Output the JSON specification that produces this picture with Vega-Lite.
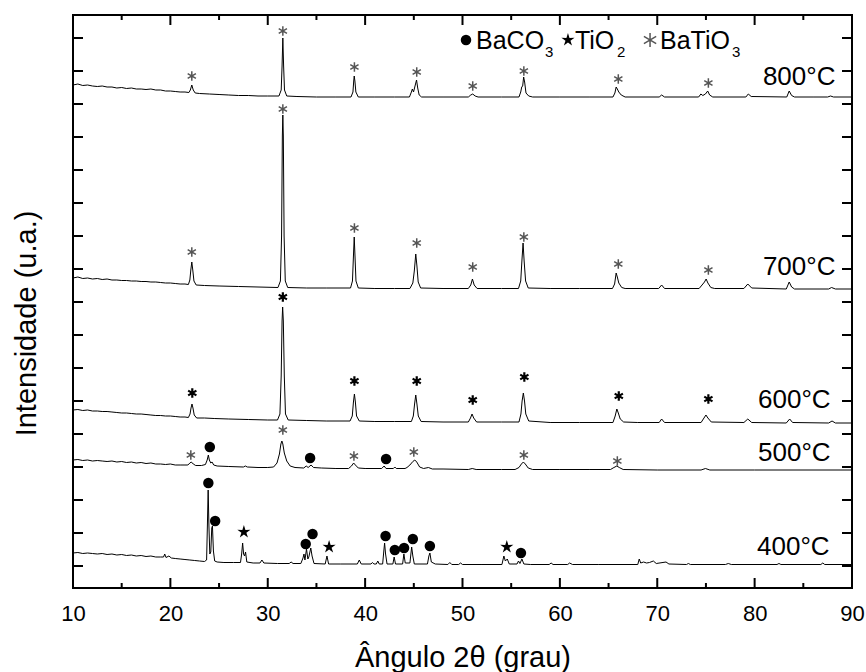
{
"$schema": "https://vega.github.io/schema/vega-lite/v6.json",
"width": 779, "height": 573,
"autosize": "none",
"padding": {"left": 73, "top": 15, "right": 14, "bottom": 84},
"background": "white",
"config": {
  "view": {"stroke": "black", "strokeWidth": 2},
  "font": "Liberation Sans",
  "axis": {"domain": false, "grid": false, "labelColor": "black", "titleColor": "black", "labelFont": "Liberation Sans", "titleFont": "Liberation Sans", "titleFontWeight": "normal"}
},
"datasets": {
  "curves": [
{"T":"800","x":10,"I":481},{"T":"800","x":10.5,"I":482},{"T":"800","x":11,"I":480.5},{"T":"800","x":11.5,"I":481},{"T":"800","x":12,"I":480},{"T":"800","x":12.5,"I":479.5},{"T":"800","x":13,"I":480},{"T":"800","x":13.5,"I":479},{"T":"800","x":14,"I":479},{"T":"800","x":14.5,"I":478},{"T":"800","x":15,"I":478.5},{"T":"800","x":15.5,"I":477.5},{"T":"800","x":16,"I":478},{"T":"800","x":16.5,"I":477},{"T":"800","x":17,"I":477},{"T":"800","x":17.5,"I":476.5},{"T":"800","x":18,"I":477},{"T":"800","x":18.5,"I":476},{"T":"800","x":19,"I":476},{"T":"800","x":19.5,"I":475},{"T":"800","x":20,"I":475},{"T":"800","x":20.5,"I":474.5},{"T":"800","x":21,"I":474},{"T":"800","x":21.5,"I":474},{"T":"800","x":21.9,"I":473.5},{"T":"800","x":22.05,"I":476},{"T":"800","x":22.2,"I":481},{"T":"800","x":22.35,"I":476},{"T":"800","x":22.55,"I":473},{"T":"800","x":23,"I":472.5},{"T":"800","x":24,"I":472},{"T":"800","x":25,"I":471.5},{"T":"800","x":26,"I":471},{"T":"800","x":27,"I":470.5},{"T":"800","x":28,"I":470.5},{"T":"800","x":29,"I":470},{"T":"800","x":30,"I":470},{"T":"800","x":31.15,"I":470},{"T":"800","x":31.38,"I":476},{"T":"800","x":31.47,"I":500},{"T":"800","x":31.55,"I":528},{"T":"800","x":31.63,"I":500},{"T":"800","x":31.72,"I":476},{"T":"800","x":31.95,"I":470},{"T":"800","x":33,"I":469.5},{"T":"800","x":35,"I":469},{"T":"800","x":37,"I":469},{"T":"800","x":38.55,"I":469},{"T":"800","x":38.75,"I":474},{"T":"800","x":38.83,"I":485},{"T":"800","x":38.88,"I":490},{"T":"800","x":38.95,"I":485},{"T":"800","x":39.05,"I":474},{"T":"800","x":39.3,"I":469},{"T":"800","x":41,"I":469},{"T":"800","x":43,"I":469},{"T":"800","x":44.55,"I":469},{"T":"800","x":44.75,"I":474},{"T":"800","x":44.85,"I":477},{"T":"800","x":44.97,"I":474},{"T":"800","x":45.15,"I":481},{"T":"800","x":45.28,"I":486},{"T":"800","x":45.4,"I":478},{"T":"800","x":45.55,"I":471},{"T":"800","x":45.8,"I":469},{"T":"800","x":48,"I":469},{"T":"800","x":50.6,"I":469},{"T":"800","x":50.85,"I":471},{"T":"800","x":51.05,"I":472},{"T":"800","x":51.3,"I":470},{"T":"800","x":51.6,"I":469},{"T":"800","x":54,"I":469},{"T":"800","x":55.8,"I":469},{"T":"800","x":55.98,"I":474},{"T":"800","x":56.08,"I":479},{"T":"800","x":56.18,"I":480},{"T":"800","x":56.28,"I":489},{"T":"800","x":56.38,"I":484},{"T":"800","x":56.52,"I":473},{"T":"800","x":56.8,"I":470},{"T":"800","x":57.2,"I":469},{"T":"800","x":60,"I":469},{"T":"800","x":63,"I":469},{"T":"800","x":65.45,"I":469},{"T":"800","x":65.65,"I":473},{"T":"800","x":65.78,"I":479},{"T":"800","x":65.9,"I":477},{"T":"800","x":66.05,"I":474},{"T":"800","x":66.3,"I":471},{"T":"800","x":66.7,"I":469},{"T":"800","x":70.2,"I":469},{"T":"800","x":70.45,"I":471},{"T":"800","x":70.75,"I":469},{"T":"800","x":74.25,"I":469},{"T":"800","x":74.48,"I":472},{"T":"800","x":74.68,"I":470.5},{"T":"800","x":74.95,"I":472},{"T":"800","x":75.18,"I":475},{"T":"800","x":75.38,"I":471},{"T":"800","x":75.7,"I":469},{"T":"800","x":79.1,"I":469},{"T":"800","x":79.35,"I":472},{"T":"800","x":79.65,"I":469.5},{"T":"800","x":83.3,"I":469},{"T":"800","x":83.55,"I":475},{"T":"800","x":83.8,"I":470.5},{"T":"800","x":84.1,"I":469},{"T":"800","x":86,"I":469},{"T":"800","x":87.5,"I":469},{"T":"800","x":87.8,"I":470},{"T":"800","x":88.1,"I":469},{"T":"800","x":90,"I":469},
{"T":"700","x":10,"I":288},{"T":"700","x":10.5,"I":289},{"T":"700","x":11,"I":287.5},{"T":"700","x":11.5,"I":288},{"T":"700","x":12,"I":287},{"T":"700","x":12.5,"I":287.5},{"T":"700","x":13,"I":286.5},{"T":"700","x":13.5,"I":287},{"T":"700","x":14,"I":286},{"T":"700","x":14.5,"I":286},{"T":"700","x":15,"I":285.5},{"T":"700","x":15.5,"I":285.5},{"T":"700","x":16,"I":285},{"T":"700","x":16.5,"I":285},{"T":"700","x":17,"I":284.5},{"T":"700","x":17.5,"I":284.5},{"T":"700","x":18,"I":284},{"T":"700","x":18.5,"I":284},{"T":"700","x":19,"I":283.5},{"T":"700","x":19.5,"I":283},{"T":"700","x":20,"I":283},{"T":"700","x":20.5,"I":282.5},{"T":"700","x":21,"I":282},{"T":"700","x":21.5,"I":282},{"T":"700","x":21.85,"I":281.5},{"T":"700","x":22.0,"I":286},{"T":"700","x":22.1,"I":296},{"T":"700","x":22.2,"I":304},{"T":"700","x":22.3,"I":296},{"T":"700","x":22.42,"I":285},{"T":"700","x":22.65,"I":281},{"T":"700","x":23.5,"I":280.5},{"T":"700","x":25,"I":280},{"T":"700","x":27,"I":279.5},{"T":"700","x":29,"I":279},{"T":"700","x":31.05,"I":278.5},{"T":"700","x":31.3,"I":285},{"T":"700","x":31.42,"I":330},{"T":"700","x":31.5,"I":430},{"T":"700","x":31.55,"I":451},{"T":"700","x":31.6,"I":430},{"T":"700","x":31.68,"I":330},{"T":"700","x":31.8,"I":285},{"T":"700","x":32.05,"I":278.5},{"T":"700","x":34,"I":278},{"T":"700","x":36,"I":278},{"T":"700","x":38.5,"I":278},{"T":"700","x":38.7,"I":285},{"T":"700","x":38.8,"I":310},{"T":"700","x":38.88,"I":329},{"T":"700","x":38.96,"I":310},{"T":"700","x":39.06,"I":285},{"T":"700","x":39.3,"I":278},{"T":"700","x":41,"I":277.5},{"T":"700","x":43,"I":277.5},{"T":"700","x":44.6,"I":277.5},{"T":"700","x":44.9,"I":283},{"T":"700","x":45.05,"I":295},{"T":"700","x":45.2,"I":312},{"T":"700","x":45.32,"I":300},{"T":"700","x":45.45,"I":284},{"T":"700","x":45.7,"I":278},{"T":"700","x":48,"I":277.5},{"T":"700","x":50.6,"I":277.5},{"T":"700","x":50.85,"I":281},{"T":"700","x":51.02,"I":287},{"T":"700","x":51.2,"I":281},{"T":"700","x":51.5,"I":277.5},{"T":"700","x":54,"I":277.5},{"T":"700","x":55.75,"I":277.5},{"T":"700","x":55.98,"I":285},{"T":"700","x":56.1,"I":305},{"T":"700","x":56.22,"I":323},{"T":"700","x":56.33,"I":305},{"T":"700","x":56.48,"I":285},{"T":"700","x":56.75,"I":278},{"T":"700","x":59,"I":277.5},{"T":"700","x":62,"I":277.5},{"T":"700","x":65.4,"I":277.5},{"T":"700","x":65.62,"I":282},{"T":"700","x":65.78,"I":293},{"T":"700","x":65.9,"I":289},{"T":"700","x":66.05,"I":283},{"T":"700","x":66.35,"I":278.5},{"T":"700","x":66.7,"I":277.5},{"T":"700","x":70.15,"I":277.5},{"T":"700","x":70.45,"I":281},{"T":"700","x":70.75,"I":277.5},{"T":"700","x":74.3,"I":277.5},{"T":"700","x":74.6,"I":281},{"T":"700","x":74.85,"I":284},{"T":"700","x":75.02,"I":287},{"T":"700","x":75.2,"I":283},{"T":"700","x":75.5,"I":278.5},{"T":"700","x":75.9,"I":277.5},{"T":"700","x":78.9,"I":277.5},{"T":"700","x":79.3,"I":282},{"T":"700","x":79.7,"I":278},{"T":"700","x":83.25,"I":277},{"T":"700","x":83.55,"I":284},{"T":"700","x":83.8,"I":279},{"T":"700","x":84.1,"I":277},{"T":"700","x":87.6,"I":277},{"T":"700","x":87.9,"I":278.5},{"T":"700","x":88.3,"I":277},{"T":"700","x":90,"I":277},
{"T":"600","x":10,"I":156},{"T":"600","x":10.5,"I":156.5},{"T":"600","x":11,"I":155.5},{"T":"600","x":11.5,"I":156},{"T":"600","x":12,"I":155},{"T":"600","x":12.5,"I":155},{"T":"600","x":13,"I":154.5},{"T":"600","x":13.5,"I":154.5},{"T":"600","x":14,"I":154},{"T":"600","x":14.5,"I":153.5},{"T":"600","x":15,"I":153},{"T":"600","x":15.5,"I":153},{"T":"600","x":16,"I":152.5},{"T":"600","x":16.5,"I":152},{"T":"600","x":17,"I":152},{"T":"600","x":17.5,"I":151.5},{"T":"600","x":18,"I":151},{"T":"600","x":18.5,"I":150.5},{"T":"600","x":19,"I":150.5},{"T":"600","x":19.5,"I":150},{"T":"600","x":20,"I":150},{"T":"600","x":20.5,"I":149.5},{"T":"600","x":21,"I":149},{"T":"600","x":21.5,"I":149},{"T":"600","x":21.85,"I":148.5},{"T":"600","x":22.02,"I":152},{"T":"600","x":22.12,"I":158},{"T":"600","x":22.22,"I":162},{"T":"600","x":22.32,"I":158},{"T":"600","x":22.45,"I":151},{"T":"600","x":22.7,"I":148},{"T":"600","x":23.5,"I":148},{"T":"600","x":24.5,"I":147.5},{"T":"600","x":26,"I":147},{"T":"600","x":28,"I":146.5},{"T":"600","x":30,"I":146},{"T":"600","x":31.0,"I":146},{"T":"600","x":31.25,"I":152},{"T":"600","x":31.38,"I":190},{"T":"600","x":31.47,"I":245},{"T":"600","x":31.53,"I":259},{"T":"600","x":31.6,"I":245},{"T":"600","x":31.7,"I":190},{"T":"600","x":31.82,"I":152},{"T":"600","x":32.1,"I":146},{"T":"600","x":34,"I":145.5},{"T":"600","x":36,"I":145},{"T":"600","x":38.45,"I":145},{"T":"600","x":38.68,"I":150},{"T":"600","x":38.8,"I":164},{"T":"600","x":38.9,"I":172},{"T":"600","x":39.0,"I":164},{"T":"600","x":39.12,"I":150},{"T":"600","x":39.4,"I":145},{"T":"600","x":41,"I":144.5},{"T":"600","x":43,"I":144.5},{"T":"600","x":44.75,"I":144.5},{"T":"600","x":44.95,"I":150},{"T":"600","x":45.08,"I":162},{"T":"600","x":45.2,"I":171},{"T":"600","x":45.32,"I":162},{"T":"600","x":45.46,"I":150},{"T":"600","x":45.75,"I":144.5},{"T":"600","x":48,"I":144},{"T":"600","x":50.6,"I":144},{"T":"600","x":50.82,"I":148},{"T":"600","x":50.98,"I":152},{"T":"600","x":51.15,"I":148},{"T":"600","x":51.45,"I":144},{"T":"600","x":54,"I":144},{"T":"600","x":55.8,"I":144},{"T":"600","x":56.0,"I":152},{"T":"600","x":56.12,"I":165},{"T":"600","x":56.25,"I":173},{"T":"600","x":56.37,"I":165},{"T":"600","x":56.5,"I":152},{"T":"600","x":56.8,"I":145},{"T":"600","x":59,"I":143.5},{"T":"600","x":62,"I":143.5},{"T":"600","x":65.45,"I":143.5},{"T":"600","x":65.68,"I":150},{"T":"600","x":65.85,"I":157},{"T":"600","x":66.0,"I":153},{"T":"600","x":66.2,"I":147},{"T":"600","x":66.55,"I":144},{"T":"600","x":68,"I":143.5},{"T":"600","x":70.2,"I":143.5},{"T":"600","x":70.45,"I":147},{"T":"600","x":70.75,"I":143.5},{"T":"600","x":74.5,"I":143.5},{"T":"600","x":74.8,"I":148},{"T":"600","x":75.0,"I":151},{"T":"600","x":75.2,"I":148},{"T":"600","x":75.55,"I":144},{"T":"600","x":78.9,"I":143.5},{"T":"600","x":79.3,"I":147},{"T":"600","x":79.7,"I":143.5},{"T":"600","x":83.25,"I":143},{"T":"600","x":83.6,"I":147},{"T":"600","x":83.9,"I":143.5},{"T":"600","x":87.6,"I":143},{"T":"600","x":87.95,"I":145},{"T":"600","x":88.3,"I":143},{"T":"600","x":90,"I":143},
{"T":"500","x":10,"I":106},{"T":"500","x":10.5,"I":106.5},{"T":"500","x":11,"I":105.5},{"T":"500","x":11.5,"I":106},{"T":"500","x":12,"I":105},{"T":"500","x":12.5,"I":105.5},{"T":"500","x":13,"I":105},{"T":"500","x":13.5,"I":104.5},{"T":"500","x":14,"I":105},{"T":"500","x":14.5,"I":104},{"T":"500","x":15,"I":104.5},{"T":"500","x":15.5,"I":103.5},{"T":"500","x":16,"I":104},{"T":"500","x":16.5,"I":103},{"T":"500","x":17,"I":103.5},{"T":"500","x":17.5,"I":102.5},{"T":"500","x":18,"I":103},{"T":"500","x":18.5,"I":102},{"T":"500","x":19,"I":102},{"T":"500","x":19.5,"I":101.5},{"T":"500","x":20,"I":102},{"T":"500","x":20.5,"I":101},{"T":"500","x":21,"I":101},{"T":"500","x":21.5,"I":101},{"T":"500","x":21.8,"I":101},{"T":"500","x":22.0,"I":103},{"T":"500","x":22.15,"I":104},{"T":"500","x":22.35,"I":102},{"T":"500","x":22.6,"I":100.5},{"T":"500","x":23.2,"I":100.5},{"T":"500","x":23.6,"I":101.5},{"T":"500","x":23.78,"I":106},{"T":"500","x":23.9,"I":111},{"T":"500","x":24.0,"I":106},{"T":"500","x":24.15,"I":103},{"T":"500","x":24.28,"I":104},{"T":"500","x":24.45,"I":101},{"T":"500","x":24.8,"I":100},{"T":"500","x":26,"I":99.5},{"T":"500","x":27.5,"I":99},{"T":"500","x":27.7,"I":100},{"T":"500","x":27.9,"I":99},{"T":"500","x":29,"I":98.5},{"T":"500","x":30,"I":98.5},{"T":"500","x":30.6,"I":99},{"T":"500","x":30.95,"I":103},{"T":"500","x":31.2,"I":112},{"T":"500","x":31.35,"I":122},{"T":"500","x":31.45,"I":125},{"T":"500","x":31.55,"I":122},{"T":"500","x":31.7,"I":113},{"T":"500","x":31.95,"I":105},{"T":"500","x":32.3,"I":100},{"T":"500","x":32.8,"I":98.5},{"T":"500","x":33.7,"I":98},{"T":"500","x":33.95,"I":100},{"T":"500","x":34.15,"I":98.5},{"T":"500","x":34.45,"I":101},{"T":"500","x":34.7,"I":98.5},{"T":"500","x":35.5,"I":98},{"T":"500","x":37,"I":97.5},{"T":"500","x":38.3,"I":97.5},{"T":"500","x":38.6,"I":100},{"T":"500","x":38.82,"I":103},{"T":"500","x":39.0,"I":101},{"T":"500","x":39.3,"I":98},{"T":"500","x":40,"I":97.5},{"T":"500","x":41.7,"I":97.5},{"T":"500","x":41.95,"I":100},{"T":"500","x":42.15,"I":97.5},{"T":"500","x":42.9,"I":97.5},{"T":"500","x":43.05,"I":99},{"T":"500","x":43.2,"I":97.5},{"T":"500","x":44.1,"I":97.5},{"T":"500","x":44.3,"I":98.5},{"T":"500","x":44.6,"I":101},{"T":"500","x":44.9,"I":104.5},{"T":"500","x":45.1,"I":106},{"T":"500","x":45.3,"I":104},{"T":"500","x":45.6,"I":99},{"T":"500","x":46.0,"I":97.5},{"T":"500","x":46.5,"I":98.5},{"T":"500","x":46.9,"I":97},{"T":"500","x":48,"I":97},{"T":"500","x":50.6,"I":96.5},{"T":"500","x":51.0,"I":97.5},{"T":"500","x":51.4,"I":96.5},{"T":"500","x":54,"I":96.5},{"T":"500","x":55.4,"I":96.5},{"T":"500","x":55.8,"I":98.5},{"T":"500","x":56.05,"I":102},{"T":"500","x":56.25,"I":104},{"T":"500","x":56.45,"I":102},{"T":"500","x":56.75,"I":98},{"T":"500","x":57.2,"I":96.5},{"T":"500","x":60,"I":96.5},{"T":"500","x":63,"I":96.5},{"T":"500","x":65.2,"I":96.5},{"T":"500","x":65.55,"I":98.5},{"T":"500","x":65.85,"I":100},{"T":"500","x":66.1,"I":98.5},{"T":"500","x":66.5,"I":96.5},{"T":"500","x":70,"I":96},{"T":"500","x":74.5,"I":96},{"T":"500","x":74.95,"I":97.5},{"T":"500","x":75.4,"I":96},{"T":"500","x":80,"I":96},{"T":"500","x":90,"I":96},
{"T":"400","x":10,"I":13},{"T":"400","x":10.5,"I":13.5},{"T":"400","x":11,"I":12.5},{"T":"400","x":11.5,"I":13},{"T":"400","x":12,"I":12.5},{"T":"400","x":12.5,"I":12},{"T":"400","x":13,"I":12.5},{"T":"400","x":13.5,"I":11.5},{"T":"400","x":14,"I":12},{"T":"400","x":14.5,"I":11},{"T":"400","x":15,"I":11.5},{"T":"400","x":15.5,"I":10.5},{"T":"400","x":16,"I":11},{"T":"400","x":16.5,"I":10},{"T":"400","x":17,"I":10.5},{"T":"400","x":17.5,"I":9.5},{"T":"400","x":18,"I":10},{"T":"400","x":18.5,"I":9},{"T":"400","x":19,"I":9},{"T":"400","x":19.3,"I":9},{"T":"400","x":19.42,"I":12},{"T":"400","x":19.55,"I":8.5},{"T":"400","x":19.85,"I":10},{"T":"400","x":20.1,"I":8},{"T":"400","x":20.5,"I":7.5},{"T":"400","x":21,"I":7},{"T":"400","x":21.5,"I":6.5},{"T":"400","x":22,"I":6},{"T":"400","x":22.5,"I":5.5},{"T":"400","x":23,"I":5},{"T":"400","x":23.5,"I":4.5},{"T":"400","x":23.72,"I":6},{"T":"400","x":23.8,"I":40},{"T":"400","x":23.88,"I":76},{"T":"400","x":23.96,"I":40},{"T":"400","x":24.05,"I":12},{"T":"400","x":24.15,"I":14},{"T":"400","x":24.25,"I":38},{"T":"400","x":24.32,"I":40},{"T":"400","x":24.42,"I":15},{"T":"400","x":24.55,"I":5},{"T":"400","x":24.8,"I":4},{"T":"400","x":25.5,"I":3.5},{"T":"400","x":26.5,"I":3.5},{"T":"400","x":27.2,"I":3.5},{"T":"400","x":27.32,"I":12},{"T":"400","x":27.42,"I":23},{"T":"400","x":27.52,"I":12},{"T":"400","x":27.62,"I":10},{"T":"400","x":27.72,"I":14},{"T":"400","x":27.85,"I":4},{"T":"400","x":28.5,"I":3},{"T":"400","x":29.2,"I":3},{"T":"400","x":29.4,"I":6},{"T":"400","x":29.6,"I":3},{"T":"400","x":31,"I":2.5},{"T":"400","x":32.2,"I":2.5},{"T":"400","x":32.4,"I":4},{"T":"400","x":32.6,"I":2.5},{"T":"400","x":33.4,"I":2.5},{"T":"400","x":33.62,"I":8},{"T":"400","x":33.72,"I":12},{"T":"400","x":33.82,"I":6},{"T":"400","x":33.98,"I":17},{"T":"400","x":34.12,"I":7},{"T":"400","x":34.22,"I":9},{"T":"400","x":34.42,"I":18},{"T":"400","x":34.55,"I":10},{"T":"400","x":34.75,"I":2.5},{"T":"400","x":35.9,"I":2},{"T":"400","x":36.08,"I":10},{"T":"400","x":36.25,"I":2},{"T":"400","x":37.5,"I":2},{"T":"400","x":39.2,"I":2},{"T":"400","x":39.4,"I":6},{"T":"400","x":39.6,"I":2},{"T":"400","x":40.6,"I":2},{"T":"400","x":40.75,"I":3.5},{"T":"400","x":40.9,"I":2},{"T":"400","x":41.15,"I":2},{"T":"400","x":41.3,"I":5},{"T":"400","x":41.45,"I":2},{"T":"400","x":41.8,"I":2},{"T":"400","x":41.92,"I":15},{"T":"400","x":42.0,"I":23},{"T":"400","x":42.1,"I":12},{"T":"400","x":42.25,"I":2},{"T":"400","x":42.85,"I":2},{"T":"400","x":42.98,"I":9},{"T":"400","x":43.12,"I":2},{"T":"400","x":43.85,"I":2},{"T":"400","x":43.98,"I":12},{"T":"400","x":44.12,"I":3},{"T":"400","x":44.6,"I":3},{"T":"400","x":44.78,"I":19},{"T":"400","x":44.9,"I":10},{"T":"400","x":45.05,"I":2},{"T":"400","x":46.4,"I":2},{"T":"400","x":46.55,"I":10},{"T":"400","x":46.65,"I":13},{"T":"400","x":46.8,"I":4},{"T":"400","x":47.2,"I":2},{"T":"400","x":48.5,"I":1.5},{"T":"400","x":48.7,"I":3.5},{"T":"400","x":48.9,"I":1.5},{"T":"400","x":49.6,"I":1.5},{"T":"400","x":49.8,"I":3},{"T":"400","x":50,"I":1.5},{"T":"400","x":52,"I":1.5},{"T":"400","x":54.05,"I":1.5},{"T":"400","x":54.25,"I":10},{"T":"400","x":54.4,"I":5},{"T":"400","x":54.6,"I":7},{"T":"400","x":54.8,"I":2},{"T":"400","x":55.6,"I":2},{"T":"400","x":55.75,"I":5},{"T":"400","x":55.9,"I":2.5},{"T":"400","x":56.1,"I":7},{"T":"400","x":56.3,"I":2},{"T":"400","x":57,"I":1.5},{"T":"400","x":58.9,"I":1.5},{"T":"400","x":59.1,"I":3},{"T":"400","x":59.3,"I":1.5},{"T":"400","x":60.8,"I":1.5},{"T":"400","x":61,"I":3},{"T":"400","x":61.3,"I":1.5},{"T":"400","x":64,"I":1.5},{"T":"400","x":68,"I":1.5},{"T":"400","x":68.15,"I":7},{"T":"400","x":68.3,"I":3},{"T":"400","x":68.6,"I":4},{"T":"400","x":68.9,"I":3},{"T":"400","x":69.2,"I":3.5},{"T":"400","x":69.6,"I":5},{"T":"400","x":69.9,"I":2.5},{"T":"400","x":70.9,"I":4},{"T":"400","x":71.2,"I":2},{"T":"400","x":73,"I":1.5},{"T":"400","x":73.2,"I":2.5},{"T":"400","x":73.4,"I":1.5},{"T":"400","x":77,"I":1.5},{"T":"400","x":77.3,"I":2.5},{"T":"400","x":77.6,"I":1.5},{"T":"400","x":82.3,"I":1.5},{"T":"400","x":82.5,"I":2.5},{"T":"400","x":82.7,"I":1.5},{"T":"400","x":86.8,"I":1.5},{"T":"400","x":87,"I":3},{"T":"400","x":87.2,"I":1.5},{"T":"400","x":90,"I":1.5}
  ],
  "ast": [
{"x":22.2,"I":490},{"x":31.55,"I":535},{"x":38.9,"I":499},{"x":45.3,"I":494},{"x":51.05,"I":480},{"x":56.3,"I":495},{"x":66.0,"I":487},{"x":75.25,"I":483},
{"x":22.2,"I":314},{"x":31.55,"I":457},{"x":38.9,"I":338},{"x":45.3,"I":323},{"x":51.05,"I":299},{"x":56.3,"I":329},{"x":66.0,"I":302},{"x":75.25,"I":296},
{"x":22.1,"I":111},{"x":31.55,"I":136},{"x":38.85,"I":110},{"x":45.0,"I":114},{"x":56.3,"I":111},{"x":65.9,"I":105}
  ],
  "astb": [
{"x":22.25,"I":173},{"x":31.55,"I":269},{"x":38.9,"I":185},{"x":45.3,"I":185},{"x":51.05,"I":166},{"x":56.35,"I":189},{"x":66.05,"I":170},{"x":75.25,"I":167}
  ],
  "circ": [
{"x":24.05,"I":119},{"x":34.35,"I":108},{"x":42.15,"I":107},
{"x":23.9,"I":83},{"x":24.6,"I":45},{"x":33.9,"I":22},{"x":34.6,"I":32},{"x":42.1,"I":30},{"x":43.05,"I":16},{"x":44.0,"I":18},{"x":44.9,"I":27},{"x":46.65,"I":20},{"x":56.0,"I":13},
{"x":50.36,"I":526}
  ],
  "star": [
{"x":27.55,"I":34},{"x":36.3,"I":19},{"x":54.55,"I":19},{"x":60.83,"I":526}
  ],
  "astleg": [{"x":69.26,"I":526}],
  "temps": [
{"t":"800°C","x":88.3,"I":481},{"t":"700°C","x":88.3,"I":291},{"t":"600°C","x":87.8,"I":158},{"t":"500°C","x":87.8,"I":105},{"t":"400°C","x":87.7,"I":11}
  ],
  "legtext": [
{"t":"BaCO","x":51.39,"I":517.5,"sub":false},{"t":"TiO","x":61.55,"I":517.5,"sub":false},{"t":"BaTiO","x":70.28,"I":517.5,"sub":false},
{"t":"3","x":58.47,"I":509,"sub":true},{"t":"2","x":65.87,"I":509,"sub":true},{"t":"3","x":77.68,"I":509,"sub":true}
  ],
  "xmajor": [{"v":20},{"v":30},{"v":40},{"v":50},{"v":60},{"v":70},{"v":80}],
  "xminor": [{"v":15},{"v":25},{"v":35},{"v":45},{"v":55},{"v":65},{"v":75},{"v":85}],
  "yticks": [{"v":0},{"v":33},{"v":66},{"v":99},{"v":132},{"v":165},{"v":198},{"v":231},{"v":264},{"v":297},{"v":330},{"v":363},{"v":396},{"v":429},{"v":462},{"v":495},{"v":528}]
},
"layer": [
  {
    "data": {"name": "curves"},
    "mark": {"type": "line", "color": "black", "strokeWidth": 1},
    "encoding": {
      "x": {"field": "x", "type": "quantitative", "scale": {"domain": [10, 90], "nice": false, "zero": false},
            "axis": {"orient": "bottom", "values": [10,20,30,40,50,60,70,80,90], "ticks": false, "tickSize": 0, "labelFontSize": 22, "labelPadding": 15, "labelFlush": false, "labelOverlap": false,
                     "title": "Ângulo 2θ (grau)", "titleFontSize": 29, "titleY": 78, "titleBaseline": "alphabetic"}},
      "y": {"field": "I", "type": "quantitative", "scale": {"domain": [-22, 551], "nice": false, "zero": false},
            "axis": {"orient": "left", "values": [0,33,66,99,132,165,198,231,264,297,330,363,396,429,462,495,528], "ticks": false, "tickSize": 0, "labels": false,
                     "title": "Intensidade (u.a.)", "titleFontSize": 29, "titleAngle": 270, "titleX": -38, "titleY": 308, "titleAlign": "center", "titleBaseline": "alphabetic"}},
      "detail": {"field": "T", "type": "nominal"}
    }
  },
  {
    "data": {"name": "xmajor"},
    "mark": {"type": "rule", "color": "black", "strokeWidth": 2},
    "encoding": {
      "x": {"field": "v", "type": "quantitative"},
      "y": {"datum": -22, "type": "quantitative"},
      "y2": {"datum": -12}
    }
  },
  {
    "data": {"name": "xmajor"},
    "mark": {"type": "rule", "color": "black", "strokeWidth": 2},
    "encoding": {
      "x": {"field": "v", "type": "quantitative"},
      "y": {"datum": 551, "type": "quantitative"},
      "y2": {"datum": 541}
    }
  },
  {
    "data": {"name": "xminor"},
    "mark": {"type": "rule", "color": "black", "strokeWidth": 2},
    "encoding": {
      "x": {"field": "v", "type": "quantitative"},
      "y": {"datum": -22, "type": "quantitative"},
      "y2": {"datum": -17}
    }
  },
  {
    "data": {"name": "xminor"},
    "mark": {"type": "rule", "color": "black", "strokeWidth": 2},
    "encoding": {
      "x": {"field": "v", "type": "quantitative"},
      "y": {"datum": 551, "type": "quantitative"},
      "y2": {"datum": 546}
    }
  },
  {
    "data": {"name": "yticks"},
    "mark": {"type": "rule", "color": "black", "strokeWidth": 2},
    "encoding": {
      "y": {"field": "v", "type": "quantitative"},
      "x": {"datum": 10, "type": "quantitative"},
      "x2": {"datum": 11.03}
    }
  },
  {
    "data": {"name": "yticks"},
    "mark": {"type": "rule", "color": "black", "strokeWidth": 2},
    "encoding": {
      "y": {"field": "v", "type": "quantitative"},
      "x": {"datum": 90, "type": "quantitative"},
      "x2": {"datum": 88.97}
    }
  },
  {
    "data": {"name": "ast"},
    "mark": {"type": "point", "shape": "M0,-1L0,1M-0.87,-0.5L0.87,0.5M-0.87,0.5L0.87,-0.5", "filled": false, "stroke": "#555555", "strokeWidth": 1.5, "size": 90, "opacity": 1},
    "encoding": {
      "x": {"field": "x", "type": "quantitative"},
      "y": {"field": "I", "type": "quantitative"}
    }
  },
  {
    "data": {"name": "astb"},
    "mark": {"type": "point", "shape": "M0,-1L0,1M-0.87,-0.5L0.87,0.5M-0.87,0.5L0.87,-0.5", "filled": false, "stroke": "black", "strokeWidth": 2.2, "size": 90, "opacity": 1},
    "encoding": {
      "x": {"field": "x", "type": "quantitative"},
      "y": {"field": "I", "type": "quantitative"}
    }
  },
  {
    "data": {"name": "circ"},
    "mark": {"type": "point", "shape": "circle", "filled": true, "color": "black", "size": 110, "opacity": 1},
    "encoding": {
      "x": {"field": "x", "type": "quantitative"},
      "y": {"field": "I", "type": "quantitative"}
    }
  },
  {
    "data": {"name": "star"},
    "mark": {"type": "point", "shape": "M0,-1L0.223,-0.307L0.951,-0.309L0.361,0.117L0.588,0.809L0,0.38L-0.588,0.809L-0.361,0.117L-0.951,-0.309L-0.223,-0.307Z", "filled": true, "color": "black", "size": 190, "opacity": 1},
    "encoding": {
      "x": {"field": "x", "type": "quantitative"},
      "y": {"field": "I", "type": "quantitative"}
    }
  },
  {
    "data": {"name": "astleg"},
    "mark": {"type": "point", "shape": "M0,-1L0,1M-0.87,-0.5L0.87,0.5M-0.87,0.5L0.87,-0.5", "filled": false, "stroke": "#555555", "strokeWidth": 1.5, "size": 200, "opacity": 1},
    "encoding": {
      "x": {"field": "x", "type": "quantitative"},
      "y": {"field": "I", "type": "quantitative"}
    }
  },
  {
    "data": {"name": "temps"},
    "mark": {"type": "text", "align": "right", "baseline": "alphabetic", "font": "Liberation Sans", "fontSize": 26, "color": "black"},
    "encoding": {
      "x": {"field": "x", "type": "quantitative"},
      "y": {"field": "I", "type": "quantitative"},
      "text": {"field": "t"}
    }
  },
  {
    "data": {"name": "legtext"},
    "transform": [{"filter": "datum.sub == false"}],
    "mark": {"type": "text", "align": "left", "baseline": "alphabetic", "font": "Liberation Sans", "fontSize": 25, "color": "black"},
    "encoding": {
      "x": {"field": "x", "type": "quantitative"},
      "y": {"field": "I", "type": "quantitative"},
      "text": {"field": "t"}
    }
  },
  {
    "data": {"name": "legtext"},
    "transform": [{"filter": "datum.sub == true"}],
    "mark": {"type": "text", "align": "left", "baseline": "alphabetic", "font": "Liberation Sans", "fontSize": 15, "color": "black"},
    "encoding": {
      "x": {"field": "x", "type": "quantitative"},
      "y": {"field": "I", "type": "quantitative"},
      "text": {"field": "t"}
    }
  }
]
}
